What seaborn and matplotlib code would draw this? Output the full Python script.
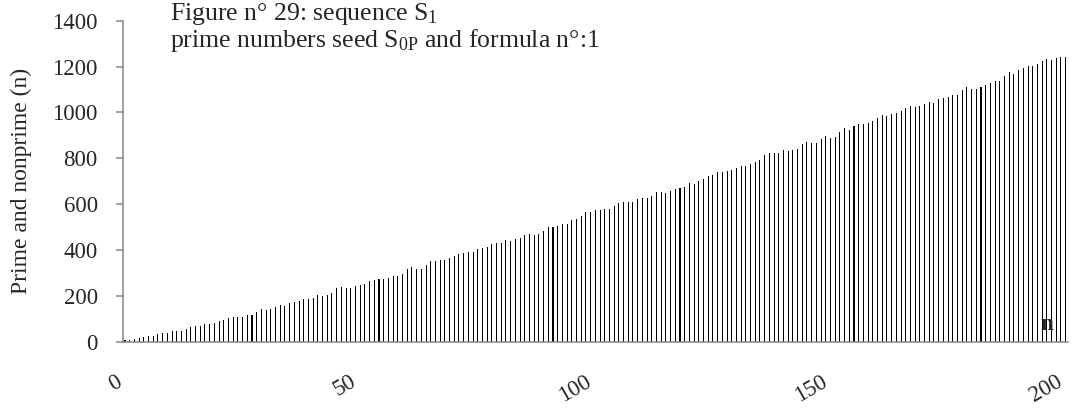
import matplotlib
matplotlib.use("Agg")
import matplotlib.pyplot as plt
import seaborn as sns
import pandas as pd

# ---- data ----
n_index = list(range(0, 201))
values = [
    7, 9, 12, 17, 20, 25, 26, 35, 38, 39, 46, 48, 48, 57, 65, 68, 71, 78, 77, 81,
    90, 94, 103, 109, 107, 110, 116, 118, 131,
    145, 141, 145, 151, 161, 158, 170, 174, 177, 186, 187, 193, 203, 199, 203, 214,
    234, 238, 234, 236, 243, 247, 253, 267, 268, 274, 276, 278, 286,
    286, 296, 318, 327, 318, 319, 336, 351, 354, 359, 356, 365, 373, 382, 386, 391,
    394, 404, 408, 414, 428, 433, 433, 443, 442, 450, 455, 465, 470,
    468, 469, 484, 501, 501, 505, 514, 516, 530, 537, 548, 566, 565, 575, 577, 580,
    578, 594, 604, 609, 610, 611, 622, 626, 626, 636, 654, 654,
    649, 659, 667, 670, 677, 691, 690, 700, 712, 722, 729, 741, 742, 747, 751, 758,
    767, 768, 774, 783, 792, 815, 822, 825, 824, 835, 832, 837, 843,
    864, 873, 866, 867, 883, 898, 890, 893, 915, 934, 925, 940, 949, 951, 954, 962,
    976, 988, 983, 992, 998, 1007, 1018, 1028, 1025, 1030, 1036, 1044, 1043,
    1059, 1065, 1066, 1076, 1075, 1097, 1113, 1101, 1102, 1110, 1119, 1127, 1136,
    1139, 1159, 1178, 1169, 1187, 1193, 1201, 1204, 1210, 1224, 1232, 1230, 1237,
    1240, 1242,
]
xtick_values = [0, 50, 100, 150, 200]
ytick_values = [0, 200, 400, 600, 800, 1000, 1200, 1400]
title_line1 = "Figure n° 29: sequence S$_\\mathregular{1}$"
title_line2 = "prime numbers seed S$_\\mathregular{0P}$ and formula n°:1"
ylabel_text = "Prime and nonprime (n)"
inner_label = "n"

# ---- style ----
sns.set_theme(style="white")
plt.rcParams['font.family'] = ['Liberation Serif', 'DejaVu Serif']
plt.rcParams['mathtext.fontset'] = 'custom'
plt.rcParams['mathtext.rm'] = 'Liberation Serif'
plt.rcParams['mathtext.it'] = 'Liberation Serif:italic'
plt.rcParams['mathtext.bf'] = 'Liberation Serif:bold'

axis_gray = '#868686'
fs = 16.5
fs_title = 18.5
fs_label = 17

fig = plt.figure(figsize=(10.75, 4.09), dpi=100)
ax = fig.add_axes([0.1141, 0.1638, 0.8794, 0.7856])

df = pd.DataFrame({'n': n_index, 'v': values})
sns.barplot(data=df, x='n', y='v', color='black', saturation=1, width=0.22,
            errorbar=None, linewidth=0, ax=ax)

ax.set_ylim(0, 1400)
ax.set_xlim(-0.5, 200.5)
ax.set_yticks(ytick_values)
ax.set_yticklabels([str(v) for v in ytick_values], fontsize=fs)
ax.set_xticks(xtick_values)
ax.set_xticklabels([str(v) for v in xtick_values], fontsize=fs, rotation=30, ha='right')

ax.tick_params(axis='y', left=True, length=5, width=1.1, color=axis_gray, pad=13)
ax.tick_params(axis='x', bottom=False, length=0, pad=21)

for s in ['top', 'right']:
    ax.spines[s].set_visible(False)
for s in ['left', 'bottom']:
    ax.spines[s].set_color(axis_gray)
    ax.spines[s].set_linewidth(1.1)

ax.set_xlabel('')
ax.set_ylabel(ylabel_text, fontsize=fs_label)
ax.yaxis.set_label_coords(-0.096, 0.5)

fig.text(170 / 1075, 1 - 47 / 409, title_line1 + "\n" + title_line2,
         fontsize=fs_title, ha='left', va='baseline', linespacing=1.02)

ax.text(0.978, 0.055, inner_label, transform=ax.transAxes, fontsize=fs,
        fontweight='bold', ha='center', va='center')

fig.savefig('out.png', dpi=100)
